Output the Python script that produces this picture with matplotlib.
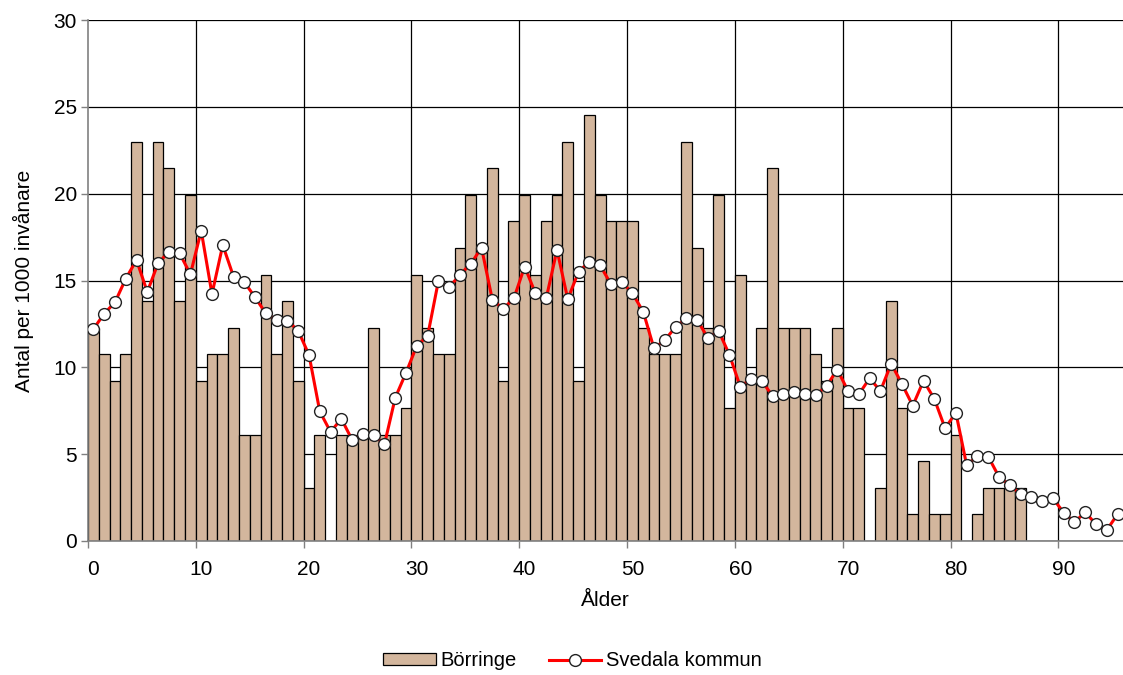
import matplotlib
matplotlib.use("Agg")
import matplotlib.pyplot as plt
import numpy as np
from matplotlib.lines import Line2D
from matplotlib.patches import Patch

ages = list(range(0, 96))
xtick_labels = ["0", "10", "20", "30", "40", "50", "60", "70", "80", "90"]

borringe = [
    12.27, 10.74, 9.20, 10.74, 23.00, 13.80, 23.00, 21.47, 13.80, 19.94,
    9.20, 10.74, 10.74, 12.27, 6.13, 6.13, 15.34, 10.74, 13.80, 9.20,
    3.07, 6.13, 0.00, 6.13, 6.13, 6.13, 12.27, 6.13, 6.13, 7.67,
    15.34, 12.27, 10.74, 10.74, 16.87, 19.94, 16.87, 21.47, 9.20, 18.40,
    19.94, 15.34, 18.40, 19.94, 23.00, 9.20, 24.54, 19.94, 18.40, 18.40,
    18.40, 12.27, 10.74, 10.74, 10.74, 23.00, 16.87, 12.27, 19.94, 7.67,
    15.34, 9.20, 12.27, 21.47, 12.27, 12.27, 12.27, 10.74, 9.20, 12.27,
    7.67, 7.67, 0.00, 3.07, 13.80, 7.67, 1.53, 4.60, 1.53, 1.53,
    6.13, 0.00, 1.53, 3.07, 3.07, 3.07, 3.07, 0.00, 0.00, 0.00,
    0.00, 0.00, 0.00, 0.00, 0.00, 0.00,
]

svedala = [
    12.20, 13.09, 13.74, 15.10, 16.18, 14.34, 16.00, 16.64, 16.56, 15.36,
    17.87, 14.22, 17.04, 15.22, 14.91, 14.03, 13.10, 12.73, 12.69, 12.10,
    10.71, 7.46, 6.28, 7.04, 5.82, 6.16, 6.10, 5.57, 8.25, 9.69,
    11.25, 11.80, 14.97, 14.60, 15.34, 15.95, 16.89, 13.90, 13.36, 13.97,
    15.80, 14.26, 13.97, 16.76, 13.93, 15.50, 16.08, 15.87, 14.80, 14.93,
    14.26, 13.20, 11.09, 11.57, 12.32, 12.82, 12.73, 11.69, 12.09, 10.71,
    8.89, 9.33, 9.21, 8.35, 8.45, 8.56, 8.45, 8.39, 8.93, 9.87,
    8.64, 8.45, 9.37, 8.64, 10.21, 9.04, 7.79, 9.23, 8.18, 6.49,
    7.39, 4.36, 4.91, 4.86, 3.69, 3.21, 2.71, 2.51, 2.32, 2.46,
    1.63, 1.09, 1.65, 0.96, 0.63, 1.55,
]

FONT = "Liberation Sans"
plt.rcParams["font.family"] = [FONT, "DejaVu Sans"]
FS = 15

fig = plt.figure(figsize=(11.23, 6.75), dpi=100)
ax = fig.add_axes([88 / 1123, 1 - 541 / 675, 1 - 88 / 1123, (541 - 20) / 675])

bar_color = "#D3B69D"
ax.bar(ages, borringe, width=1.0, color=bar_color, edgecolor="black",
       linewidth=0.9, zorder=2)
ax.plot(ages, svedala, color="#FF0000", linewidth=2.2, marker="o",
        markersize=8.5, markerfacecolor="white", markeredgecolor="#222222",
        markeredgewidth=1.0, zorder=3)

ax.set_xlim(-0.5, 95.5)
ax.set_ylim(0, 30)

ax.set_yticks(np.arange(0, 31, 5))
ax.yaxis.grid(True, color="black", linewidth=0.9, zorder=0)
ax.set_axisbelow(True)
for b in np.arange(9.5, 95, 10):
    ax.axvline(b, color="black", linewidth=0.9, zorder=0.5)

xt = [int(s) for s in xtick_labels]
ax.set_xticks(xt)
ax.set_xticklabels(xtick_labels)
ax.tick_params(axis="x", length=0, labelsize=FS, pad=14)
ax.set_xticks(np.arange(-0.5, 96, 10), minor=True)
ax.tick_params(axis="x", which="minor", length=5, color="#808080", width=1)
ax.tick_params(axis="y", length=5, color="#808080", width=1, labelsize=FS, pad=3)

for s in ["top", "right"]:
    ax.spines[s].set_visible(False)
for s in ["left", "bottom"]:
    ax.spines[s].set_color("#808080")
    ax.spines[s].set_linewidth(1.2)

ax.set_xlabel("Ålder", fontsize=FS, labelpad=8)
ax.set_ylabel("Antal per 1000 invånare", fontsize=FS, labelpad=14)

handles = [
    Patch(facecolor=bar_color, edgecolor="black", linewidth=0.9, label="Börringe"),
    Line2D([0], [0], color="#FF0000", linewidth=2.2, marker="o", markersize=8.5,
           markerfacecolor="white", markeredgecolor="#222222", markeredgewidth=1.0,
           label="Svedala kommun"),
]
fig.legend(handles=handles, loc="lower center", bbox_to_anchor=(0.51, -0.02),
           ncol=2, frameon=False, fontsize=14.5, handlelength=2.6,
           handleheight=0.5, handletextpad=0.25, columnspacing=1.6)

fig.savefig("out.png", dpi=100)
